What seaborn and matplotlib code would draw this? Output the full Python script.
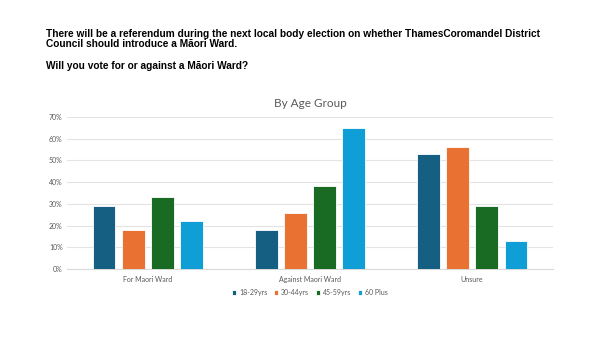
import matplotlib
matplotlib.use("Agg")
import matplotlib.pyplot as plt
import seaborn as sns
import pandas as pd
from matplotlib.ticker import PercentFormatter

categories = ["For Maori Ward", "Against Maori Ward", "Unsure"]
age_groups = ["18-29yrs", "30-44yrs", "45-59yrs", "60 Plus"]
values_18_29 = [0.29, 0.18, 0.53]
values_30_44 = [0.18, 0.26, 0.56]
values_45_59 = [0.33, 0.38, 0.29]
values_60_plus = [0.22, 0.65, 0.13]
colors = ["#156082", "#E97132", "#196B24", "#0F9ED5"]

header_1 = ("There will be a referendum during the next local body election on whether ThamesCoromandel District\n"
            "Council should introduce a M\u0101ori Ward.")
header_2 = "Will you vote for or against a M\u0101ori Ward?"
chart_title = "By Age Group"

rows = []
for g, vals in zip(age_groups, [values_18_29, values_30_44, values_45_59, values_60_plus]):
    for c, v in zip(categories, vals):
        rows.append({"Category": c, "Age": g, "Value": v})
df = pd.DataFrame(rows)

sns.set_theme(style="white")
plt.rcParams["font.family"] = ["Lato", "DejaVu Sans"]

fig = plt.figure(figsize=(6.02, 3.38), dpi=100)
ax = fig.add_axes([0.111, 0.204, 0.808, 0.450])

sns.barplot(data=df, x="Category", y="Value", hue="Age", order=categories,
            hue_order=age_groups, palette=colors, saturation=1, width=0.72, gap=0.22,
            edgecolor="white", linewidth=0.6, ax=ax, zorder=3)

ax.set_ylim(0, 0.70)
ax.set_yticks([i / 10 for i in range(8)])
ax.yaxis.set_major_formatter(PercentFormatter(1.0, decimals=0))
ax.grid(axis="y", color="#e3e3e3", linewidth=0.8, zorder=0)
ax.set_axisbelow(True)
for s in ["top", "right", "left"]:
    ax.spines[s].set_visible(False)
ax.spines["bottom"].set_color("#d9d9d9")
ax.spines["bottom"].set_linewidth(0.8)
ax.tick_params(axis="both", length=0, labelsize=5, labelcolor="#595959", pad=3)
ax.tick_params(axis="x", pad=5)
ax.set_xlabel("")
ax.set_ylabel("")
ax.set_title(chart_title, fontsize=8.5, color="#595959", pad=7)

ax.legend(loc="upper center", bbox_to_anchor=(0.5, -0.09), ncol=4, frameon=False,
          fontsize=5, handlelength=0.6, handleheight=0.6, handletextpad=0.4,
          columnspacing=1.0, labelcolor="#595959")

fig.text(46 / 602, 1 - 29 / 338, header_1, fontsize=7.3, fontweight="bold",
         family=["Liberation Sans", "DejaVu Sans"], va="top", ha="left",
         linespacing=1.0, color="black")
fig.text(46 / 602, 1 - 61 / 338, header_2, fontsize=7.3, fontweight="bold",
         family=["Liberation Sans", "DejaVu Sans"], va="top", ha="left",
         color="black")

fig.savefig("out.png", dpi=100)
